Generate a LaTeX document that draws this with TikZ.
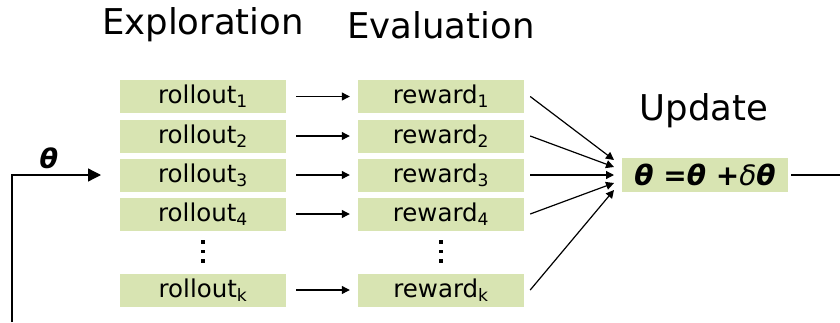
\documentclass[tikz,border=0pt]{standalone}
\usepackage{fontspec}
\setmainfont{DejaVu Sans}
\usetikzlibrary{arrows.meta}
\definecolor{boxgreen}{HTML}{D8E4B2}
\begin{document}
\begin{tikzpicture}[x=1pt,y=-1pt,
  cell/.style={fill=boxgreen,minimum width=166pt,minimum height=33pt,inner sep=0pt,font=\fontsize{24.5}{26}\selectfont},
  title/.style={font=\fontsize{35.5}{38}\selectfont},
  flow/.style={-{Triangle[length=8pt,width=8pt]},line width=1.2pt},
  feed/.style={line width=1.3pt}]
\useasboundingbox (0,0) rectangle (840,322);
% section headings
\node[title] (hexp) at (203,25) {Exploration};
\node[title] (heval) at (441,25) {Evaluation};
\node[title] (hupd) at (704,111) {Update};
% rollouts and their rewards
\foreach \i/\y/\s in {1/96.5/1,2/136/2,3/175/3,4/214/4,k/290/k}{
  \node[cell] (ro\i) at (203,\y) {rollout\textsubscript{\s}};
  \node[cell] (rw\i) at (441,\y) {reward\textsubscript{\s}};
  \draw[flow] ([xshift=10pt]ro\i.east) -- ([xshift=-8pt]rw\i.west);
}
% ellipses between row 4 and row k
\foreach \x in {203,441}{
  \foreach \d in {242,251.5,261} \fill (\x-1.7,\d-1.7) rectangle ++(3.4,3.4);
}
% update rule
\node[cell,minimum height=34pt,font=\fontsize{28}{30}\selectfont\bfseries\itshape] (upd) at (705,175) {θ =θ +\textmd{δ}θ};
\foreach \i/\t in {1/160,2/167,3/175,4/183,k/190}{
  \draw[flow] ([xshift=6pt]rw\i.east) -- (614,\t);
}
% parameter feedback loop
\coordinate (outR) at (840,175);
\coordinate (loopB) at (12,322);
\coordinate (loopT) at (12,175);
\coordinate (inL) at (101,175);
\draw[feed] ([xshift=3pt]upd.east) -- (outR);
\draw[feed,-{Triangle[length=13pt,width=13pt]}] (loopB) -- (loopT) -- (inL);
\node[font=\fontsize{27}{29}\selectfont\bfseries\itshape] (th) at (49,158) {θ};
\end{tikzpicture}
\end{document}
